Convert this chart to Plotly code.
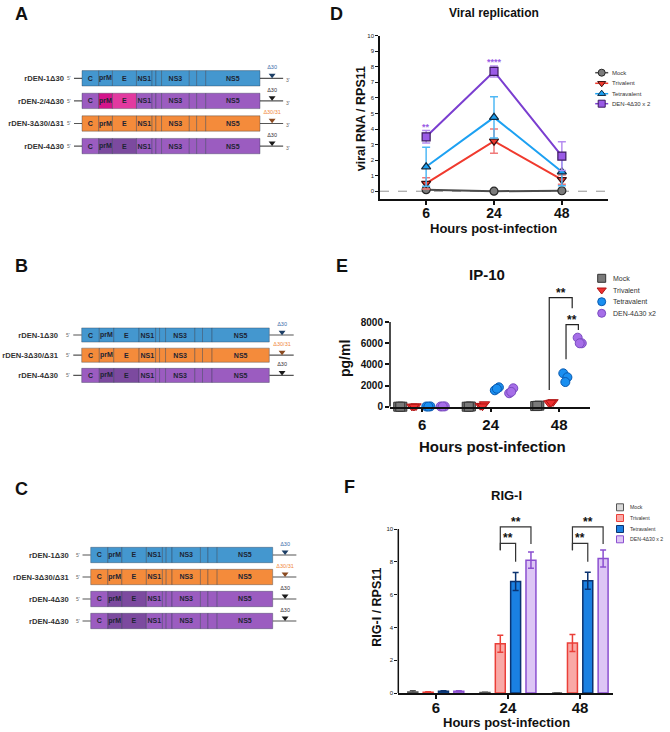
import numpy as np
import plotly.graph_objects as go

W, H = 670, 732
FONT = "Arial"

# ---------------- genome maps (A, B, C) ----------------
SEGMENTS = ["C", "prM", "E", "NS1", "NS2A", "NS2B", "NS3", "NS4A", "NS4B", "NS5"]
SEG_LEN = [9.4, 7.7, 13.5, 8.8, 2.1, 3.2, 15.6, 4.1, 5.1, 30.5]
SEG_LABEL = ["C", "prM", "E", "NS1", "", "", "NS3", "", "", "NS5"]
UTR5 = 4.5
UTR3 = 13.0
MUT_POS = 106.8

A_ROWS = ["rDEN-1Δ30", "rDEN-2/4Δ30", "rDEN-3Δ30/Δ31", "rDEN-4Δ30"]
B_ROWS = ["rDEN-1Δ30", "rDEN-3Δ30/Δ31", "rDEN-4Δ30"]
C_ROWS = ["rDEN-1Δ30", "rDEN-3Δ30/Δ31", "rDEN-4Δ30", "rDEN-4Δ30"]

# ---------------- experiments (D, E, F) ----------------
HOURS = ["6", "24", "48"]
GROUPS = ["Mock", "Trivalent", "Tetravalent", "DEN-4Δ30 x 2"]

# D: viral RNA / RPS11, mean and error
D_MOCK = [0.1, 0.0, 0.03]
D_MOCK_ERR = [0.08, 0.02, 0.02]
D_TRI = [0.5, 3.22, 0.75]
D_TRI_ERR = [0.36, 0.78, 0.3]
D_TETRA = [1.57, 4.75, 1.25]
D_TETRA_ERR = [1.25, 1.33, 0.9]
D_DEN4 = [3.5, 7.7, 2.26]
D_DEN4_ERR = [0.4, 0.35, 0.92]
D_STARS = ["**", "****", ""]

# E: IP-10 pg/ml, three replicates per time point
E_MOCK = [[0, 0, 0], [0, 20, 0], [60, 100, 80]]
E_TRI = [[30, 60, 20], [100, 250, 50], [350, 450, 400]]
E_TETRA = [[20, 30, 10], [1550, 1830, 1700], [3150, 2780, 2330]]
E_DEN4 = [[20, 30, 25], [1270, 1740, 1400], [6520, 5990, 5990]]
E_LABELS = ["Mock", "Trivalent", "Tetravalent", "DEN-4Δ30 x2"]

# F: RIG-I / RPS11, mean and error
F_MOCK = [0.06, 0.03, 0.0]
F_MOCK_ERR = [0.08, 0.02, 0.0]
F_TRI = [0.05, 3.0, 3.05]
F_TRI_ERR = [0.02, 0.52, 0.52]
F_TETRA = [0.1, 6.8, 6.85]
F_TETRA_ERR = [0.03, 0.55, 0.52]
F_DEN4 = [0.1, 8.1, 8.2]
F_DEN4_ERR = [0.03, 0.5, 0.52]


def px(x):
    return x / W


def py(y):
    return 1 - y / H


BLUE, ORANGE, PURPLE, PURPLE_DK = "#4497cf", "#f48b3b", "#9b5cc0", "#7c4a9f"


def seg_colors(name):
    if name.startswith("rDEN-1"):
        return [BLUE] * 10
    if name.startswith("rDEN-2/4"):
        return [PURPLE, "#d3148b", "#e23aa0"] + [PURPLE] * 7
    if name.startswith("rDEN-3"):
        return [ORANGE] * 10
    return [PURPLE, PURPLE_DK, PURPLE_DK] + [PURPLE] * 7


def mutation(name):
    if name.startswith("rDEN-1"):
        return "Δ30", "#3a6ea8", "#1d3f66"
    if name.startswith("rDEN-3"):
        return "Δ30/31", "#f0883a", "#8a4a20"
    return "Δ30", "#333333", "#1a1a1a"


fig = go.Figure()
layout = {}
shapes = []
annotations = []

GENOME_PANELS = [
    dict(key="", rows=A_ROWS, box=(82, 260), lab=62, first=78.3, step=22.6, bw=0.68, three=True),
    dict(key="2", rows=B_ROWS, box=(81.7, 269.3), lab=56, first=335, step=20.2, bw=0.7, three=False),
    dict(key="3", rows=C_ROWS, box=(90.7, 272.7), lab=66.7, first=555, step=22, bw=0.7, three=False),
]

starts = np.concatenate([[0], np.cumsum(SEG_LEN)[:-1]])
for p in GENOME_PANELS:
    rows, k = p["rows"], p["key"]
    n = len(rows)
    L, R = p["box"]
    ppu = (R - L) / 100
    left_px, right_px = p["lab"] + 3, R + 34
    top_px = p["first"] - 0.95 * p["step"]
    bot_px = p["first"] + (n - 0.25) * p["step"]
    layout["xaxis" + k] = dict(domain=[px(left_px), px(right_px)],
                               range=[-(L - left_px) / ppu, (right_px - L) / ppu],
                               visible=False, anchor="y" + k)
    layout["yaxis" + k] = dict(domain=[py(bot_px), py(top_px)], range=[n - 0.25, -0.95],
                               anchor="x" + k, tickvals=list(range(n)), ticktext=rows, ticks="",
                               showline=False, showgrid=False, zeroline=False,
                               tickfont=dict(family=FONT, size=7.6, color="#333", weight="bold"))
    ys, xs, bases, cols, txt = [], [], [], [], []
    for i, name in enumerate(rows):
        ys += [i] * len(SEG_LEN)
        xs += SEG_LEN
        bases += list(starts)
        cols += seg_colors(name)
        txt += SEG_LABEL
    fig.add_trace(go.Bar(orientation="h", y=ys, x=xs, base=bases, width=p["bw"],
                         marker=dict(color=cols, line=dict(color="rgba(35,45,65,0.5)", width=0.7)),
                         text=txt, textposition="inside", insidetextanchor="middle", textangle=0,
                         constraintext="none",
                         textfont=dict(family=FONT, size=7, color="#1d2433", weight="bold"),
                         xaxis="x" + k, yaxis="y" + k, showlegend=False, hoverinfo="skip"))
    muts = [mutation(r) for r in rows]
    fig.add_trace(go.Scatter(x=[MUT_POS] * n, y=np.arange(n) - 0.14, mode="markers+text",
                             marker=dict(symbol="triangle-down", size=6, color=[m[2] for m in muts]),
                             text=[m[0] for m in muts], textposition="top center",
                             textfont=dict(family=FONT, size=5.5, color=[m[1] for m in muts]),
                             xaxis="x" + k, yaxis="y" + k, showlegend=False, hoverinfo="skip",
                             cliponaxis=False))
    for i in range(n):
        for x0, x1 in [(-UTR5, 0), (100, 100 + UTR3)]:
            shapes.append(dict(type="line", xref="x" + k, yref="y" + k, x0=x0, x1=x1, y0=i, y1=i,
                               line=dict(color="#555", width=1.2), layer="below"))
        annotations.append(dict(xref="x" + k, yref="y" + k, x=-UTR5 - 0.5, y=i, text="5'",
                                showarrow=False, xanchor="right",
                                font=dict(family=FONT, size=5, color="#666")))
        if p["three"]:
            annotations.append(dict(xref="x" + k, yref="y" + k, x=100 + UTR3 + 0.5, y=i + 0.08,
                                    text="3'", showarrow=False, xanchor="left",
                                    font=dict(family=FONT, size=5, color="#666")))

# ---------------- D: viral replication ----------------
D_STYLE = [
    dict(symbol="circle", fill="#7b7b7b", edge="#262626", line="#4d4d4d", err="#8c8c8c"),
    dict(symbol="triangle-down", fill="#f03a2e", edge="#3a1010", line="#f03a2e", err="#f07a7a"),
    dict(symbol="triangle-up", fill="#1da1f2", edge="#102a40", line="#1da1f2", err="#4fb8f5"),
    dict(symbol="square", fill="#9a5ae6", edge="#3c1a60", line="#7b3fd0", err="#b58cf0"),
]
d_series = [(D_MOCK, D_MOCK_ERR), (D_TRI, D_TRI_ERR), (D_TETRA, D_TETRA_ERR), (D_DEN4, D_DEN4_ERR)]
for s, (vals, err) in zip(D_STYLE, d_series):
    fig.add_trace(go.Scatter(x=list(range(len(HOURS))), y=vals, mode="lines+markers",
                             line=dict(color=s["line"], width=2),
                             marker=dict(symbol=s["symbol"], size=8, color=s["fill"],
                                         line=dict(color=s["edge"], width=1.2)),
                             error_y=dict(type="data", array=err, color=s["err"], thickness=1.5, width=4),
                             xaxis="x4", yaxis="y4", showlegend=False, cliponaxis=False))
for i, st in enumerate(D_STARS):
    if st:
        top = D_DEN4[i] + D_DEN4_ERR[i]
        annotations.append(dict(xref="x4", yref="y4", x=i, y=top, text=st, showarrow=False,
                                yanchor="bottom", yshift=-3,
                                font=dict(family=FONT, size=9, color="#9b5de5", weight="bold")))
shapes.append(dict(type="line", xref="x4 domain", yref="y4", x0=0, x1=1, y0=0, y1=0,
                   line=dict(color="#777", width=0.8, dash="dash"), layer="below"))

AX = dict(showgrid=False, zeroline=False, showline=True, linecolor="#111", linewidth=1.5,
          ticks="outside", tickcolor="#111", tickwidth=1.5)
layout["xaxis4"] = dict(AX, domain=[px(380), px(608)], range=[-0.68, 2.68], anchor="y4",
                        tickvals=[0, 1, 2], ticktext=HOURS, ticklen=4, ticklabelstandoff=-4,
                        tickfont=dict(family=FONT, size=14, color="#111", weight="bold"))
layout["yaxis4"] = dict(AX, domain=[py(199), py(35.7)], range=[-0.5, 10], anchor="x4",
                        tickvals=list(range(11)), ticklen=3, tickwidth=1,
                        tickfont=dict(family=FONT, size=6, color="#222"))

# ---------------- E: IP-10 ----------------
E_STYLE = [
    dict(symbol="square", fill="#7a7a7a", edge="#333333"),
    dict(symbol="triangle-down", fill="#ee3030", edge="#b01515"),
    dict(symbol="circle", fill="#1a8ff0", edge="#0a5ab0"),
    dict(symbol="circle", fill="#a66ee8", edge="#7a4cc0"),
]
E_OFFSET = [-0.32, -0.12, 0.09, 0.3]
JITTER = [-0.03, 0.03, 0.0]
e_series = [E_MOCK, E_TRI, E_TETRA, E_DEN4]
for gi, (s, reps) in enumerate(zip(E_STYLE, e_series)):
    arr = np.array(reps, dtype=float)
    x = (np.arange(len(HOURS))[:, None] + E_OFFSET[gi] + np.array(JITTER)[None, :]).ravel()
    fig.add_trace(go.Scatter(x=x, y=arr.ravel(), mode="markers",
                             marker=dict(symbol=s["symbol"], size=9, color=s["fill"],
                                         line=dict(color=s["edge"], width=1)),
                             xaxis="x5", yaxis="y5", showlegend=False, cliponaxis=False))
E_BRACKETS = [  # (time idx, left dx, right dx, left bottom, top, right bottom)
    (2, -0.145, 0.19, 1580, 10300, 9300),
    (2, 0.10, 0.28, 4480, 7750, 7250),
]
for t, a, b, ya, top, yb in E_BRACKETS:
    shapes.append(dict(type="path", xref="x5", yref="y5",
                       path=f"M {t + a},{ya} L {t + a},{top} L {t + b},{top} L {t + b},{yb}",
                       line=dict(color="#222", width=1.2)))
    annotations.append(dict(xref="x5", yref="y5", x=t + (a + b) / 2, y=top, text="**",
                            showarrow=False, yanchor="bottom", yshift=-4,
                            font=dict(family=FONT, size=12, color="#111", weight="bold")))
E_TOP = 10800
e_top_px = 406.7 - E_TOP / 8000 * 84.7
layout["xaxis5"] = dict(AX, domain=[px(390), px(590)], range=[-0.47, 2.45], anchor="y5",
                        tickvals=[0, 1, 2], ticktext=HOURS, ticklen=4,
                        tickfont=dict(family=FONT, size=15, color="#111", weight="bold"))
layout["yaxis5"] = dict(AX, domain=[py(406.7), py(e_top_px)], range=[0, E_TOP], anchor="x5",
                        showline=False, tickvals=[0, 2000, 4000, 6000, 8000], ticklen=4,
                        tickfont=dict(family=FONT, size=10, color="#111", weight="bold"))
shapes.append(dict(type="line", xref="x5 domain", yref="y5", x0=0, x1=0, y0=0, y1=8000,
                   line=dict(color="#111", width=1.5)))

# ---------------- F: RIG-I ----------------
BARGAP = 0.15
F_STYLE = [
    dict(fill="#d9d9d9", edge="#555555"),
    dict(fill="#f9a9a6", edge="#ea3f38"),
    dict(fill="#1a80e2", edge="#0b3370"),
    dict(fill="#ddc6f5", edge="#8b4fd0"),
]
f_series = [(F_MOCK, F_MOCK_ERR), (F_TRI, F_TRI_ERR), (F_TETRA, F_TETRA_ERR), (F_DEN4, F_DEN4_ERR)]
for s, (vals, err) in zip(F_STYLE, f_series):
    fig.add_trace(go.Bar(x=list(range(len(HOURS))), y=vals,
                         marker=dict(color=s["fill"], line=dict(color=s["edge"], width=1.5)),
                         error_y=dict(type="data", array=err, color=s["edge"], thickness=1.5, width=3),
                         xaxis="x6", yaxis="y6", showlegend=False))
F_SLOT = (1 - BARGAP) / 4
F_POS = [(i - 1.5) * F_SLOT for i in range(4)]
F_BRACKETS = [  # (time idx, group a, group b, bottom a, top, bottom b)
    (1, 1, 2, 8.71, 9.12, 8.0), (1, 1, 3, 8.71, 10.13, 9.08),
    (2, 1, 2, 8.71, 9.12, 8.0), (2, 1, 3, 8.71, 10.13, 9.08),
]
for t, ga, gb, ya, top, yb in F_BRACKETS:
    xa, xb = t + F_POS[ga], t + F_POS[gb]
    shapes.append(dict(type="path", xref="x6", yref="y6",
                       path=f"M {xa},{ya} L {xa},{top} L {xb},{top} L {xb},{yb}",
                       line=dict(color="#333", width=1.2)))
    annotations.append(dict(xref="x6", yref="y6", x=(xa + xb) / 2, y=top, text="**",
                            showarrow=False, yanchor="bottom", yshift=-4,
                            font=dict(family=FONT, size=12, color="#111", weight="bold")))
F_TOP = 10.8
f_top_px = 693 - F_TOP * 16.4
layout["xaxis6"] = dict(AX, domain=[px(398.3), px(613.3)], range=[-0.52, 2.46], anchor="y6",
                        tickvals=[0, 1, 2], ticktext=HOURS, ticklen=4, ticklabelstandoff=-4,
                        tickfont=dict(family=FONT, size=15, color="#111", weight="bold"))
layout["yaxis6"] = dict(AX, domain=[py(693), py(f_top_px)], range=[0, F_TOP], anchor="x6",
                        showline=False, tickvals=[0, 2, 4, 6, 8, 10], ticklen=3, tickwidth=1,
                        tickfont=dict(family=FONT, size=6, color="#222"))
shapes.append(dict(type="line", xref="x6 domain", yref="y6", x0=0, x1=0, y0=0, y1=10,
                   line=dict(color="#111", width=1.5)))

# ---------------- hand-drawn legends on a pixel canvas ----------------
layout["xaxis7"] = dict(domain=[0, 1], range=[0, W], visible=False, anchor="y7")
layout["yaxis7"] = dict(domain=[0, 1], range=[H, 0], visible=False, anchor="x7")


def legend(rows_y, mx, tx, labels, styles, size, fsize, line=None, symbol=None):
    for y, lab, s in zip(rows_y, labels, styles):
        if line:
            fig.add_trace(go.Scatter(x=[mx - 6.5, mx + 6.5], y=[y, y], mode="lines",
                                     line=dict(color=s["line"], width=1.5),
                                     xaxis="x7", yaxis="y7", showlegend=False, hoverinfo="skip"))
        fig.add_trace(go.Scatter(x=[mx], y=[y], mode="markers",
                                 marker=dict(symbol=symbol or s["symbol"], size=size, color=s["fill"],
                                             line=dict(color=s["edge"], width=1)),
                                 xaxis="x7", yaxis="y7", showlegend=False, hoverinfo="skip"))
        annotations.append(dict(xref="x7", yref="y7", x=tx, y=y, text=lab, showarrow=False,
                                xanchor="left", font=dict(family=FONT, size=fsize, color="#333")))


legend([72.7, 83.3, 93.7, 103.7], 601.7, 609.5, GROUPS, D_STYLE, 7, 6, line=True)
legend([278.3, 290, 301.7, 313.3], 601.7, 610.5, E_LABELS, E_STYLE, 8, 7)
legend([507.3, 518, 529, 539.3], 620, 627.5, GROUPS, F_STYLE, 7, 5.2, symbol="square")

# ---------------- titles and panel letters ----------------
TEXTS = [
    ("A", 21, 14, 18, 0), ("B", 21, 266, 18, 0), ("C", 21, 489, 18, 0),
    ("D", 336, 14, 18, 0), ("E", 342, 266, 18, 0), ("F", 349, 487, 18, 0),
    ("Viral replication", 494, 12.5, 12, 0), ("viral RNA / RPS11", 361.7, 118.5, 12.5, -90),
    ("Hours post-infection", 494, 228, 13, 0),
    ("IP-10", 486.7, 275, 15, 0), ("pg/ml", 345, 359, 14, -90),
    ("Hours post-infection", 492, 446, 15, 0),
    ("RIG-I", 506.7, 495, 13, 0), ("RIG-I / RPS11", 376.7, 607, 12.5, -90),
    ("Hours post-infection", 506, 722, 13, 0),
]
for text, x, y, size, ang in TEXTS:
    annotations.append(dict(xref="paper", yref="paper", x=px(x), y=py(y), text=text, showarrow=False,
                            xanchor="center", yanchor="middle", textangle=ang,
                            font=dict(family=FONT, size=size, color="#111", weight="bold")))

fig.update_layout(
    width=W, height=H, margin=dict(l=0, r=0, t=0, b=0),
    paper_bgcolor="white", plot_bgcolor="rgba(0,0,0,0)",
    barmode="group", bargap=BARGAP, bargroupgap=0.35,
    shapes=shapes, annotations=annotations, showlegend=False,
    font=dict(family=FONT),
    **layout,
)
fig.update_xaxes(automargin=False)
fig.update_yaxes(automargin=False)

# the page's default body margin would push the 670x732 figure off the window
fig.write_html("out.html", config={"displayModeBar": False},
               post_script="document.body.style.margin = '0';")
